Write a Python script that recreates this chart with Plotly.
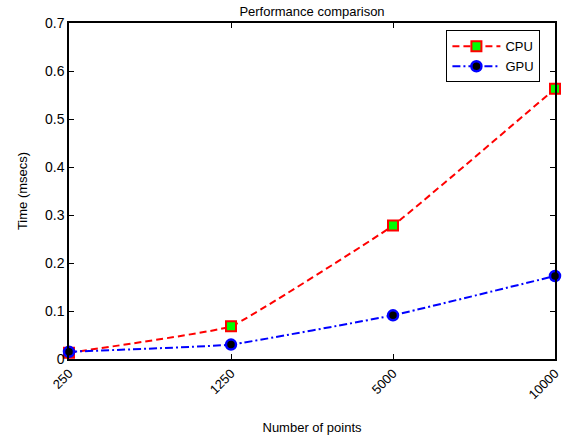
import plotly.graph_objects as go

points = ["250", "1250", "5000", "10000"]
cpu = [0.013, 0.068, 0.278, 0.563]
gpu = [0.015, 0.030, 0.091, 0.173]
yticks = [0, 0.1, 0.2, 0.3, 0.4, 0.5, 0.6, 0.7]
ytext = ["0", "0.1", "0.2", "0.3", "0.4", "0.5", "0.6", "0.7"]

font = "Liberation Sans, Arial, sans-serif"

fig = go.Figure()
fig.add_trace(go.Scatter(
    x=points, y=cpu, name="CPU", mode="lines+markers",
    line=dict(color="#ff0000", dash="7px,4px", width=2, shape="spline", smoothing=0.25),
    marker=dict(symbol="square", size=10, color="#00ff00", line=dict(color="#ff0000", width=2)),
    cliponaxis=False,
))
fig.add_trace(go.Scatter(
    x=points, y=gpu, name="GPU", mode="lines+markers",
    line=dict(color="#0000ff", dash="8px,3px,2px,3px", width=2, shape="spline", smoothing=0.25),
    marker=dict(symbol="circle", size=10, color="#000000", line=dict(color="#0000ff", width=2.5)),
    cliponaxis=False,
))

fig.update_layout(
    width=565, height=439,
    margin=dict(l=69, r=10, t=23, b=80, autoexpand=False),
    paper_bgcolor="white", plot_bgcolor="white",
    font=dict(family=font, size=13, color="black"),
    title=dict(text="Performance comparison", x=0.5, xanchor="center", y=0.975, yanchor="middle",
               xref="paper", font=dict(size=13), automargin=False),
    showlegend=True,
    legend=dict(x=0.97, xanchor="right", y=0.978, yanchor="top",
                bordercolor="black", borderwidth=1, bgcolor="white",
                font=dict(size=13), tracegroupgap=0, itemwidth=48),
    xaxis=dict(
        type="category", range=[0, 3], automargin=False,
        title=dict(text="Number of points", standoff=22, font=dict(size=13)),
        tickangle=-45, ticks="inside", ticklen=5, tickcolor="black",
        showline=True, linecolor="black", linewidth=1.5, mirror="ticks",
        showgrid=False, zeroline=False, tickfont=dict(size=13),
    ),
    yaxis=dict(
        range=[0, 0.7], tickvals=yticks, ticktext=ytext, automargin=False,
        title=dict(text="Time (msecs)", standoff=14, font=dict(size=13)),
        ticks="inside", ticklen=5, tickcolor="black",
        showline=True, linecolor="black", linewidth=1.5, mirror="ticks",
        showgrid=False, zeroline=False, tickfont=dict(size=14),
    ),
)

fig.write_html("out.html", config={"displayModeBar": False},
               post_script="document.body.style.margin='0';document.body.style.overflow='hidden';")
